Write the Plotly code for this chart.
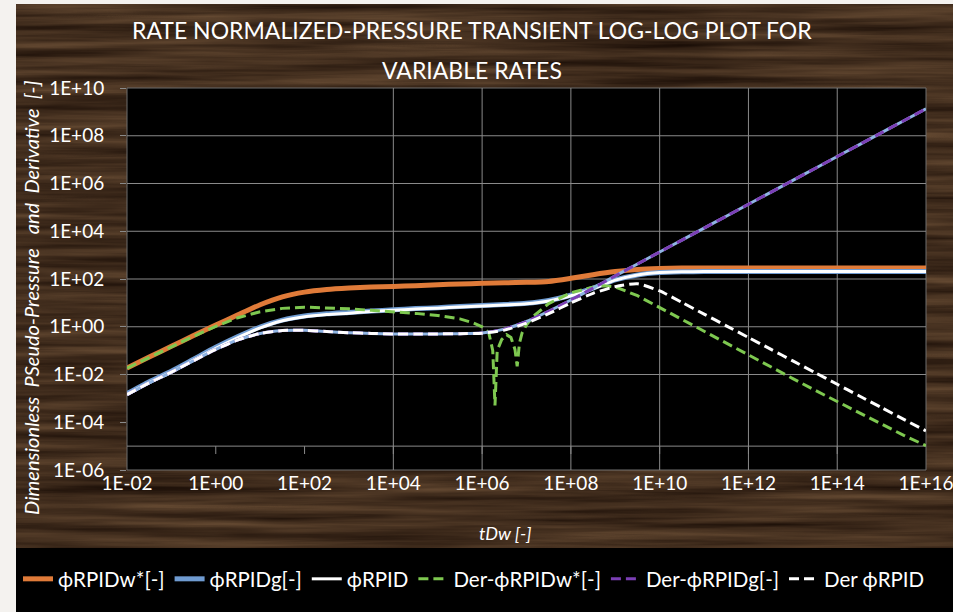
import base64
import plotly.graph_objects as go

# ---- data: dimensionless time (log10 tDw) and log10 of each response ----
t_log = [-2.0, -1.5, -1.0, -0.5, 0.0, 0.5, 1.0, 1.5, 2.0, 2.5, 3.0, 3.5, 4.0, 4.5,
         5.0, 5.5, 6.0, 6.5, 7.0, 7.5, 8.0, 8.5, 9.0, 9.5, 10.0, 10.5, 11.0, 11.5,
         12.0, 12.5, 13.0, 13.5, 14.0, 14.5, 15.0, 15.5, 16.0]

rpid_w_log = [-1.73, -1.27, -0.82, -0.37, 0.07, 0.50, 0.92, 1.25, 1.45, 1.56, 1.62, 1.66,
              1.69, 1.72, 1.76, 1.79, 1.82, 1.84, 1.86, 1.90, 2.03, 2.18, 2.31, 2.40,
              2.44, 2.46, 2.46, 2.46, 2.46, 2.46, 2.46, 2.46, 2.46, 2.46, 2.46, 2.46, 2.46]

rpid_g_log = [-2.80, -2.30, -1.86, -1.36, -0.86, -0.41, -0.01, 0.28, 0.45, 0.54, 0.60, 0.66,
              0.71, 0.76, 0.80, 0.85, 0.89, 0.93, 0.98, 1.10, 1.32, 1.62, 1.96, 2.17,
              2.27, 2.30, 2.31, 2.31, 2.31, 2.31, 2.31, 2.31, 2.31, 2.31, 2.31, 2.31, 2.31]

rpid_log = [-2.84, -2.34, -1.90, -1.40, -0.90, -0.45, -0.05, 0.25, 0.42, 0.51, 0.57, 0.64,
            0.69, 0.74, 0.78, 0.83, 0.87, 0.91, 0.96, 1.08, 1.30, 1.60, 1.95, 2.17,
            2.27, 2.30, 2.31, 2.31, 2.31, 2.31, 2.31, 2.31, 2.31, 2.31, 2.31, 2.31, 2.31]

der_g_log = [-2.84, -2.35, -1.90, -1.42, -0.95, -0.55, -0.28, -0.16, -0.15, -0.20, -0.25, -0.28,
             -0.30, -0.30, -0.30, -0.29, -0.26, -0.10, 0.22, 0.65, 1.12, 1.62, 2.13, 2.63,
             3.13, 3.63, 4.13, 4.63, 5.13, 5.63, 6.13, 6.63, 7.13, 7.63, 8.13, 8.63, 9.13]

der_rpid_log = [-2.84, -2.35, -1.90, -1.42, -0.95, -0.55, -0.28, -0.16, -0.15, -0.20, -0.25, -0.28,
                -0.30, -0.30, -0.30, -0.29, -0.27, -0.14, 0.15, 0.55, 1.00, 1.40, 1.68, 1.80,
                1.50, 1.02, 0.53, 0.04, -0.45, -0.94, -1.43, -1.92, -2.41, -2.90, -3.39, -3.88, -4.36]

# the water-normalised derivative changes sign twice, so it is sampled more finely there
t_w_log = [-2.0, -1.5, -1.0, -0.5, 0.0, 0.5, 1.0, 1.5, 2.0, 2.5, 3.0, 3.5, 4.0, 4.5, 5.0, 5.5,
           5.8, 6.0, 6.15, 6.24, 6.29, 6.34, 6.44, 6.55, 6.65, 6.74, 6.79, 6.84, 6.9, 7.0,
           7.15, 7.5, 8.0, 8.5, 8.75, 9.0, 9.5, 10.0, 10.5, 11.0, 11.5, 12.0, 12.5, 13.0,
           13.5, 14.0, 14.5, 15.0, 15.5, 16.0]
der_w_log = [-1.73, -1.28, -0.84, -0.40, 0.02, 0.38, 0.63, 0.77, 0.82, 0.80, 0.75, 0.69,
             0.63, 0.56, 0.47, 0.33, 0.16, 0.00, -0.25, -1.0, -3.3, -1.0, -0.54, -0.33,
             -0.45, -0.95, -1.66, -0.70, -0.26, 0.08, 0.43, 0.97, 1.42, 1.66, 1.72, 1.67,
             1.30, 0.80, 0.30, -0.20, -0.70, -1.19, -1.68, -2.17, -2.66, -3.14, -3.62,
             -4.10, -4.55, -4.98]

x_ticks_exp = [-2, 0, 2, 4, 6, 8, 10, 12, 14, 16]
y_ticks_exp = [-6, -4, -2, 0, 2, 4, 6, 8, 10]
x_grid_exp = [4, 6, 8, 10, 12, 14]
y_grid_exp = [-2, 0, 2, 4, 6, 8]
x_axis_cross_exp = -5


def pow10(values):
    return [10 ** v for v in values]


def sci(e):
    return "1E{}{:02d}".format("+" if e >= 0 else "-", abs(e))


t = pow10(t_log)
t_w = pow10(t_w_log)

FONT = "Lato, 'Open Sans', 'DejaVu Sans', sans-serif"
DASH = "10px,5px"

fig = go.Figure()
fig.add_trace(go.Scatter(x=t, y=pow10(rpid_w_log), name="ϕRPIDw*[-]", mode="lines+markers",
                         line=dict(color="#e07b39", width=5, shape="spline", smoothing=0.6),
                         marker=dict(size=3, color="#e07b39")))
fig.add_trace(go.Scatter(x=t, y=pow10(rpid_g_log), name="ϕRPIDg[-]", mode="lines",
                         line=dict(color="#6f9bd1", width=5, shape="spline", smoothing=0.6)))
fig.add_trace(go.Scatter(x=t, y=pow10(rpid_log), name="ϕRPID", mode="lines",
                         line=dict(color="#ffffff", width=3, shape="spline", smoothing=0.6)))
fig.add_trace(go.Scatter(x=t_w, y=pow10(der_w_log), name="Der-ϕRPIDw*[-]", mode="lines",
                         line=dict(color="#7ec850", width=3, dash=DASH)))
fig.add_trace(go.Scatter(x=t, y=pow10(der_g_log), showlegend=False, hoverinfo="skip", mode="lines",
                         line=dict(color="#8fb4e3", width=3, shape="spline", smoothing=0.6)))
fig.add_trace(go.Scatter(x=t, y=pow10(der_g_log), name="Der-ϕRPIDg[-]", mode="lines",
                         line=dict(color="#7b3fb5", width=3, dash=DASH, shape="spline", smoothing=0.6)))
fig.add_trace(go.Scatter(x=t, y=pow10(der_rpid_log), name="Der ϕRPID", mode="lines",
                         line=dict(color="#ffffff", width=3, dash=DASH, shape="spline", smoothing=0.6)))

# wood-grain panel behind the chart
wood_svg = (
    "<svg xmlns='http://www.w3.org/2000/svg' width='960' height='544'>"
    "<filter id='g' x='0' y='0' width='100%' height='100%' color-interpolation-filters='sRGB'>"
    "<feTurbulence type='fractalNoise' baseFrequency='0.004 0.11' numOctaves='4' seed='11'/>"
    "<feColorMatrix type='matrix' values='0.36 0 0 0 0.08  0.29 0 0 0 0.035  0.21 0 0 0 0.012  0 0 0 0 1'/>"
    "</filter>"
    "<rect width='960' height='544' fill='#3e2c1e'/>"
    "<rect width='960' height='544' filter='url(#g)'/>"
    "</svg>"
)
wood_uri = "data:image/svg+xml;base64," + base64.b64encode(wood_svg.encode()).decode()

L, R, T, B = 127, 27, 88, 142
W, H = 953, 612
pw, ph = W - L - R, H - T - B


def px_x(p):
    return (p - L) / pw


def px_y(p):
    return (H - B - p) / ph


fig.add_layout_image(dict(source=wood_uri, xref="paper", yref="paper", x=px_x(16), y=px_y(4),
                          sizex=(W + 10 - 16) / pw, sizey=(548 - 4) / ph, xanchor="left", yanchor="top",
                          sizing="stretch", layer="below"))

shapes = [
    # legend band
    dict(type="rect", xref="paper", yref="paper", x0=px_x(16), x1=px_x(W + 5), y0=px_y(548),
         y1=px_y(H + 5), fillcolor="#000000", line=dict(width=0), layer="below"),
    # plot area
    dict(type="rect", xref="paper", yref="paper", x0=0, x1=1, y0=0, y1=1,
         fillcolor="#000000", line=dict(color="#6e6e6e", width=1), layer="below"),
]
grid = dict(color="#8a8a8a", width=1)
for e in x_grid_exp:
    shapes.append(dict(type="line", xref="x", yref="paper", x0=10 ** e, x1=10 ** e, y0=0, y1=1,
                       line=grid, layer="below"))
for e in y_grid_exp:
    shapes.append(dict(type="line", xref="paper", yref="y", x0=0, x1=1, y0=10 ** e, y1=10 ** e,
                       line=grid, layer="below"))
shapes.append(dict(type="line", xref="paper", yref="y", x0=0, x1=1, y0=10 ** x_axis_cross_exp,
                   y1=10 ** x_axis_cross_exp, line=grid, layer="below"))
for e in x_ticks_exp[1:-1]:
    shapes.append(dict(type="line", xref="x", yref="y", x0=10 ** e, x1=10 ** e,
                       y0=10 ** x_axis_cross_exp, y1=10 ** (x_axis_cross_exp - 0.33),
                       line=grid, layer="below"))

annotations = [
    dict(text="RATE NORMALIZED-PRESSURE TRANSIENT LOG-LOG PLOT FOR", x=px_x(472), y=px_y(30),
         xref="paper", yref="paper", xanchor="center", yanchor="middle", showarrow=False,
         font=dict(family=FONT, size=23, color="#ffffff")),
    dict(text="VARIABLE RATES", x=px_x(472), y=px_y(70), xref="paper", yref="paper",
         xanchor="center", yanchor="middle", showarrow=False,
         font=dict(family=FONT, size=23, color="#ffffff")),
    dict(text="<i>Dimensionless  PSeudo-Pressure   and  Derivative  [-]</i>", x=px_x(31), y=px_y(298),
         xref="paper", yref="paper", xanchor="center", yanchor="middle", showarrow=False,
         textangle=-90, font=dict(family=FONT, size=20, color="#ffffff")),
    dict(text="<i>tDw [-]</i>", x=px_x(505), y=px_y(533), xref="paper", yref="paper",
         xanchor="center", yanchor="middle", showarrow=False,
         font=dict(family=FONT, size=18, color="#ffffff")),
]

axis_font = dict(family=FONT, size=19, color="#ffffff")
fig.update_layout(
    width=W, height=H,
    margin=dict(l=L, r=R, t=T, b=B, autoexpand=False),
    paper_bgcolor="#f4f2ef",
    plot_bgcolor="rgba(0,0,0,0)",
    shapes=shapes,
    annotations=annotations,
    xaxis=dict(type="log", range=[-2, 16], showgrid=False, zeroline=False,
               tickvals=[10 ** e for e in x_ticks_exp], ticktext=[sci(e) for e in x_ticks_exp],
               tickfont=axis_font, ticks="", showline=False, ticklabeloverflow="allow"),
    yaxis=dict(type="log", range=[-6, 10], showgrid=False, zeroline=False,
               tickvals=[10 ** e for e in y_ticks_exp], ticktext=[sci(e) for e in y_ticks_exp],
               tickfont=axis_font, ticks="outside", ticklen=6, tickcolor="#8a8a8a", ticklabelstandoff=12,
               showline=False, ticklabeloverflow="allow"),
    legend=dict(orientation="h", x=px_x(18), xanchor="left", y=px_y(579), yanchor="middle",
                bgcolor="rgba(0,0,0,0)", font=dict(family=FONT, size=20.5, color="#ffffff"),
                itemwidth=30, tracegroupgap=0),
    showlegend=True,
)

fig.write_html("out.html")
